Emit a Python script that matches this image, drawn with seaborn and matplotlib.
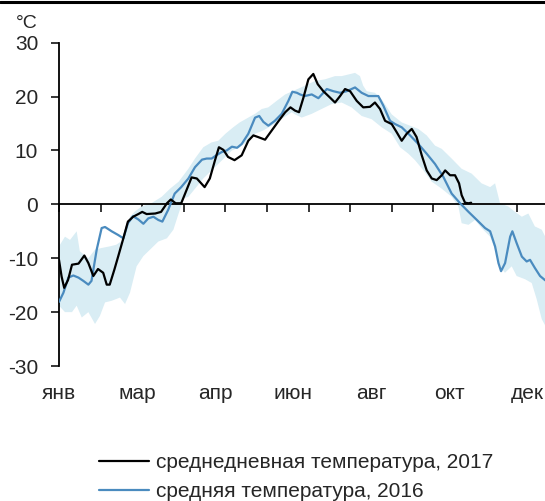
import numpy as np
import matplotlib
matplotlib.use("Agg")
import matplotlib.pyplot as plt
from matplotlib.lines import Line2D
import seaborn as sns

# day of year (0 = 1 Jan) and temperature
days_2017 = [0, 2, 4, 7, 10, 15, 19.5, 22.6, 26.4, 30, 34, 36.7, 39, 42.6, 45.6, 49.5, 53, 57, 61, 64,
             67.4, 74, 78.5, 83, 86, 89.7, 94, 98, 102, 106, 112, 116, 120, 123, 126.5, 130, 135, 140.5,
             145.6, 149.5, 153, 158.5, 163.6, 169, 174, 178, 181.5, 184.6, 188, 191.8, 195.6, 199, 203.3,
             208.5, 212.3, 216.2, 220, 223.9, 229, 234, 239.2, 243, 246.9, 250.8, 255.9, 259.7, 263.6,
             267.4, 271.3, 275, 279, 282.8, 286.7, 290.5, 294.4, 297, 300.8, 304.6, 307.7, 309.7, 312.3,
             315, 317]
temp_2017 = [-10.3, -13.4, -15.5, -14, -11.2, -11, -9.5, -10.9, -13.3, -12, -12.7, -14.9, -14.9, -12.1,
             -9.6, -6.3, -3.2, -2.3, -1.8, -1.4, -1.8, -1.7, -1.4, 0.2, 0.9, 0.2, 0.2, 2.6, 5, 4.8, 3.2,
             4.8, 8.2, 10.6, 10.1, 8.8, 8.2, 9.1, 11.8, 12.8, 12.5, 12, 13.7, 15.5, 17.1, 18, 17.4, 17.1,
             19.8, 23.2, 24.2, 22.3, 21, 19.8, 18.9, 20.1, 21.4, 21, 19.2, 18, 18.1, 18.9, 17.7, 15.5,
             14.9, 13.4, 11.8, 13.1, 14, 12.5, 9.1, 6.3, 4.8, 4.5, 5.4, 6.3, 5.4, 5.4, 3.9, 1.7, 0.3,
             0.2, 0.3]

days_2016 = [0, 3.4, 7.2, 11, 15, 18.7, 22.6, 25, 29, 32.8, 35.4, 40.5, 45.6, 49.5, 53, 57, 61, 64.9,
             68.7, 72.6, 76.4, 79.5, 84, 89, 94, 99.5, 104.6, 110, 113.6, 117.4, 121, 125.1, 129, 133,
             137, 140.5, 145.6, 150.8, 154, 157.2, 161, 166, 171.3, 176.4, 179.5, 183, 185.4, 189,
             194.4, 199.5, 203.3, 206, 211, 216.2, 221.3, 227.7, 232.8, 238, 245.6, 249.5, 254.6,
             258.5, 263.6, 270, 276.4, 282.8, 289.2, 295.6, 302, 308.5, 315, 321.4, 327.7, 331.6,
             335.4, 338, 340, 343.1, 347, 348.7, 352, 356, 359.7, 362.3, 366, 370, 374]
temp_2016 = [-18.1, -16.4, -13.6, -13.2, -13.6, -14.2, -14.9, -14.2, -8.4, -4.4, -4.2, -5, -5.7, -6.3,
             -3.5, -2.2, -2.8, -3.6, -2.6, -2.3, -2.9, -3.2, -1, 2, 3.2, 4.8, 6.9, 8.3, 8.5, 8.5, 9.1,
             9.7, 10, 10.7, 10.5, 11.2, 13.1, 16.1, 16.4, 15.3, 14.6, 15.5, 16.8, 19.2, 20.9, 20.7,
             20.4, 20.1, 20.4, 19.7, 20.7, 21.4, 21, 20.7, 21, 21.7, 20.7, 20.1, 20.1, 18.3, 15.5,
             14.9, 14.3, 12.8, 11.2, 9.4, 7.5, 5.1, 2, 0.2, -1.4, -2.9, -4.4, -5, -7.8, -10.9, -12.4,
             -10.9, -6, -5, -7.2, -9.7, -10.6, -10.3, -11.8, -13.3, -14.1]

# range band (upper / lower edge)
band_up_days = [0, 4.6, 8.5, 13.6, 16, 22.6, 27.7, 32.8, 39, 44, 49.5, 54.6, 58.5, 63.6, 71, 79, 85.4,
                92, 99.5, 104.6, 111, 117.4, 122.5, 128, 134, 139, 145.6, 150.8, 156, 161, 167.4, 174,
                181.5, 189, 196.9, 204.6, 212.3, 217.4, 222.6, 227.7, 231.5, 234, 236.7, 243, 248.2,
                255.9, 263.6, 270, 276.4, 282.8, 289.2, 294.4, 302, 309.7, 317.4, 325, 331.6, 335.4,
                339.2, 345.6, 350.8, 356, 361, 366, 371.3, 374]
band_up = [-7.8, -6, -6.6, -5, -8.7, -10, -8.4, -8.1, -7.8, -7.5, -6.6, -2.3, -1.3, -0.4, 0.2, 1.4, 2.9,
           4.2, 6.6, 8.5, 10.6, 11.5, 11.8, 13.1, 14.3, 15.2, 16.1, 16.8, 17.7, 18, 19.2, 20.4, 21.2,
           22, 22.9, 23.2, 23.8, 23.8, 24.1, 24.4, 23.8, 22, 21, 20.7, 19.5, 16.7, 15.2, 14.6, 14,
           12.8, 10.9, 10.3, 8.5, 6.6, 5.7, 3.9, 3.2, 3.9, 0.2, -0.4, -1.4, -2.3, -1.7, -4.1, -4.7, -6]
band_lo_days = [0, 4.6, 10, 13.6, 17.5, 22.6, 27.7, 31.5, 35.4, 40.5, 46.9, 50.8, 54.6, 59.7, 64.9,
                71.3, 76.4, 83, 88, 92, 96, 99.5, 104.6, 111, 117.4, 122.5, 128, 133, 139, 145.6,
                150.8, 157, 163.6, 171, 179, 181.5, 186.7, 194.4, 202, 209.7, 217.4, 225, 232.8, 240.5,
                248.2, 255.9, 262.3, 268.7, 273.8, 280.3, 286.7, 294.4, 302, 307.2, 309.7, 315, 320,
                325, 331.6, 335.4, 339.2, 343, 348.2, 352, 358.5, 363.6, 367.4, 371.3, 374]
band_lo = [-18.8, -20, -20, -18.8, -21, -20, -22.2, -20.7, -18.2, -17.9, -17.3, -18.5, -16.4, -11.5,
           -9.6, -8.1, -6.9, -6.3, -4.7, -1.7, 1.1, 1.4, 2.9, 4.8, 6.3, 7.5, 8.8, 10, 10.6, 11.8, 13.1,
           13.7, 14.6, 15.8, 17.1, 16.7, 16.1, 16.8, 17.7, 18.6, 18.9, 18, 16.4, 15.8, 14.3, 13.1,
           10.6, 9.4, 8.2, 6.3, 4.2, 2.9, 1.4, -0.4, -3.5, -3.8, -2.9, -4.4, -6, -8.4, -11.5, -12.7,
           -11.5, -13.3, -13.9, -14.6, -17.6, -21.3, -22.5]

label_days = [0, 60, 120, 180, 240, 300, 360]
month_labels = ["янв", "мар", "апр", "июн", "авг", "окт", "дек"]
tick_days = list(range(0, 375, 32))

sns.set_style("white")
plt.rcParams['font.family'] = ['Liberation Sans', 'DejaVu Sans']
plt.rcParams['axes.unicode_minus'] = False

fig = plt.figure(figsize=(5.45, 5.01), dpi=100)
ax = fig.add_axes([59 / 545, 1 - 366 / 501, 1 - 59 / 545, (366 - 42.7) / 501])

ax.fill(np.concatenate([band_up_days, band_lo_days[::-1]]),
        np.concatenate([band_up, band_lo[::-1]]),
        color="#d9edf4", linewidth=0, zorder=1)
sns.lineplot(x=days_2016, y=temp_2016, ax=ax, color="#4a8bbf", linewidth=1.6,
             label="средняя температура, 2016", zorder=3)
sns.lineplot(x=days_2017, y=temp_2017, ax=ax, color="black", linewidth=1.6,
             label="среднедневная температура, 2017", zorder=4)

ax.set_xlim(0, 373.8)
ax.set_ylim(-30, 30)
ax.set_yticks(range(-30, 31, 10))
ax.tick_params(axis="y", direction="out", length=6, width=1.3, labelsize=15, pad=9, left=True)
for s in ["top", "right"]:
    ax.spines[s].set_visible(False)
ax.spines["left"].set_linewidth(1.3)
ax.spines["left"].set_color("black")
ax.spines["bottom"].set_position(("data", 0))
ax.spines["bottom"].set_linewidth(1.3)
ax.spines["bottom"].set_color("black")
ax.spines["bottom"].set_zorder(2)
ax.set_xticks(tick_days)
ax.tick_params(axis="x", direction="out", length=6, width=1.3, labelbottom=False, bottom=True)

sec = ax.secondary_xaxis("bottom")
sec.set_xticks(label_days, labels=month_labels)
sec.tick_params(length=0, labelsize=15, pad=13)
sec.spines["bottom"].set_visible(False)

fig.text(16 / 545, 1 - 28 / 501, "°C", fontsize=14)

ax.get_legend().remove()
h, l = ax.get_legend_handles_labels()
fig.legend(h[::-1], l[::-1], loc="upper left", bbox_to_anchor=(99 / 545, 1 - 453 / 501),
           frameon=False, fontsize=15, handlelength=2.4, handletextpad=0.33, labelspacing=0.5,
           borderpad=0, borderaxespad=0)

fig.add_artist(Line2D([0, 1], [1 - 2 / 501, 1 - 2 / 501], color="black", linewidth=2.2))

fig.savefig("out.png", dpi=100)
